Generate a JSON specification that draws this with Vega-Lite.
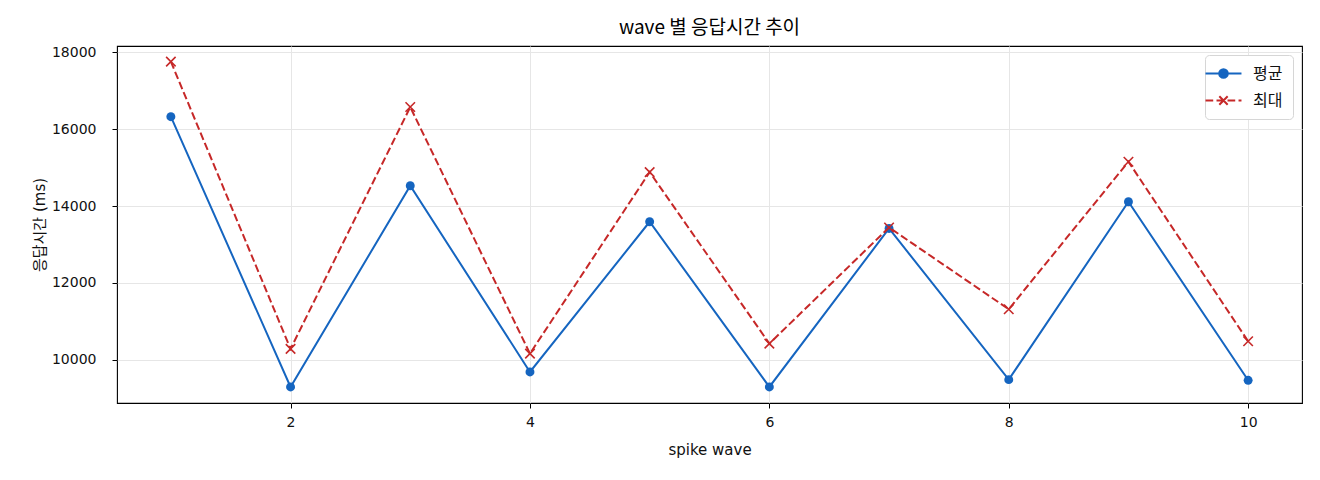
{
  "$schema": "https://vega.github.io/schema/vega-lite/v6.json",
  "width": 1185,
  "height": 357,
  "autosize": {"type": "none"},
  "padding": {"left": 117, "top": 46, "right": 18, "bottom": 77},
  "background": "white",
  "title": {"text": "wave 별 응답시간 추이", "fontSize": 19, "fontWeight": "normal", "font": "Noto Sans CJK KR", "color": "#000000", "offset": 7},
  "data": {
    "values": [
      {"wave": 1, "series": "평균", "ms": 16323},
      {"wave": 2, "series": "평균", "ms": 9297},
      {"wave": 3, "series": "평균", "ms": 14528},
      {"wave": 4, "series": "평균", "ms": 9688},
      {"wave": 5, "series": "평균", "ms": 13591},
      {"wave": 6, "series": "평균", "ms": 9297},
      {"wave": 7, "series": "평균", "ms": 13417},
      {"wave": 8, "series": "평균", "ms": 9487},
      {"wave": 9, "series": "평균", "ms": 14111},
      {"wave": 10, "series": "평균", "ms": 9470},
      {"wave": 1, "series": "최대", "ms": 17754},
      {"wave": 2, "series": "최대", "ms": 10286},
      {"wave": 3, "series": "최대", "ms": 16573},
      {"wave": 4, "series": "최대", "ms": 10164},
      {"wave": 5, "series": "최대", "ms": 14882},
      {"wave": 6, "series": "최대", "ms": 10424},
      {"wave": 7, "series": "최대", "ms": 13443},
      {"wave": 8, "series": "최대", "ms": 11317},
      {"wave": 9, "series": "최대", "ms": 15152},
      {"wave": 10, "series": "최대", "ms": 10484}
    ]
  },
  "encoding": {
    "x": {
      "field": "wave", "type": "quantitative",
      "scale": {"domain": [0.55, 10.45], "nice": false, "zero": false},
      "axis": {"values": [2, 4, 6, 8, 10], "title": "spike wave", "labelPadding": 7, "titlePadding": 13}
    },
    "y": {
      "field": "ms", "type": "quantitative",
      "scale": {"domain": [8880, 18160], "nice": false, "zero": false},
      "axis": {"values": [10000, 12000, 14000, 16000, 18000], "format": "d", "title": "응답시간 (ms)", "labelPadding": 16, "titlePadding": 4}
    },
    "color": {
      "field": "series", "type": "nominal",
      "scale": {"domain": ["평균", "최대"], "range": ["#1565c0", "#c62828"]},
      "legend": {
        "title": null,
        "orient": "top-right",
        "offset": 9,
        "symbolSize": 207,
        "labelOffset": 21,
        "rowPadding": 10,
        "encode": {
          "symbols": {
            "update": {
              "shape": {"signal": "datum.value === '평균' ? 'M-2.5,0L2.5,0M-0.6,0A0.6,0.6 0 1,0 0.6,0A0.6,0.6 0 1,0 -0.6,0Z' : 'M-2.5,0L-1.43,0M-0.97,0L0.1,0M0.56,0L1.63,0M2.09,0L2.5,0M-0.58,-0.58L0.58,0.58M-0.58,0.58L0.58,-0.58'"},
              "fill": {"signal": "datum.value === '평균' ? '#1565c0' : 'transparent'"},
              "stroke": {"signal": "datum.value === '평균' ? '#1565c0' : '#c62828'"},
              "strokeWidth": {"value": 2},
              "strokeDash": {"value": []},
              "size": {"value": 207},
              "opacity": {"value": 1}
            }
          }
        }
      }
    }
  },
  "layer": [
    {"transform": [{"filter": "datum.series === '평균'"}], "mark": {"type": "line", "strokeWidth": 2}},
    {"transform": [{"filter": "datum.series === '평균'"}], "mark": {"type": "point", "shape": "circle", "filled": true, "size": 80, "opacity": 1}},
    {"transform": [{"filter": "datum.series === '최대'"}], "mark": {"type": "line", "strokeWidth": 2, "strokeDash": [7.7, 3.3]}},
    {"transform": [{"filter": "datum.series === '최대'"}], "mark": {"type": "point", "shape": "M-1,-1L1,1M-1,1L1,-1", "filled": false, "size": 90, "strokeWidth": 1.6, "opacity": 1}}
  ],
  "config": {
    "view": {"stroke": "#000000", "strokeWidth": 1.1},
    "font": "Noto Sans CJK KR",
    "axis": {
      "domain": false,
      "grid": true,
      "gridColor": "#e6e6e6",
      "gridWidth": 1,
      "ticks": true,
      "tickColor": "#000000",
      "tickSize": 5,
      "tickWidth": 1,
      "labelFont": "DejaVu Sans",
      "labelFontSize": 14,
      "labelColor": "#111111",
      "titleFont": "DejaVu Sans, Noto Sans CJK KR",
      "titleFontSize": 15,
      "titleFontWeight": "normal",
      "titleColor": "#111111"
    },
    "legend": {
      "fillColor": "#ffffff",
      "strokeColor": "#d6d6d6",
      "cornerRadius": 4,
      "padding": 10,
      "labelFont": "Noto Sans CJK KR",
      "labelFontSize": 16,
      "labelColor": "#111111"
    }
  }
}
